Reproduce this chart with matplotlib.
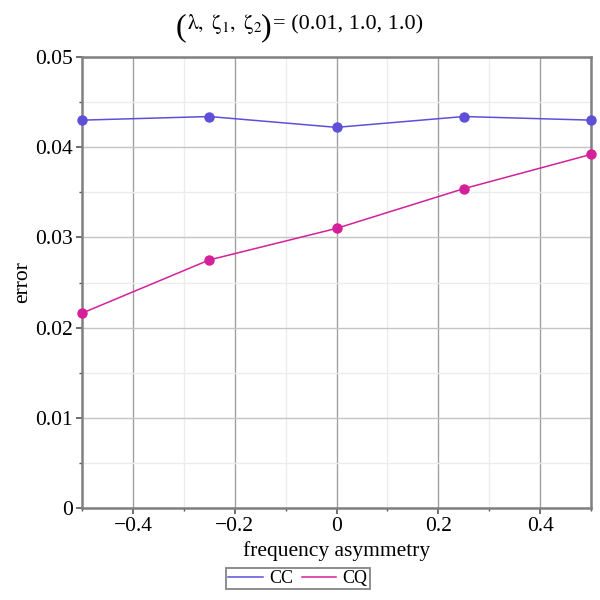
import matplotlib
matplotlib.use("Agg")
import matplotlib.pyplot as plt
from matplotlib.ticker import MultipleLocator, FuncFormatter

plt.rcParams['font.family'] = ['Liberation Serif', 'DejaVu Serif']
plt.rcParams['mathtext.fontset'] = 'stix'

asym = [-0.5, -0.25, 0.0, 0.25, 0.5]
err_cc = [0.0430, 0.0434, 0.0422, 0.0434, 0.0430]
err_cq = [0.0216, 0.0275, 0.0310, 0.0354, 0.0392]
series_names = ["CC", "CQ"]
col_cc = "#5E4FD8"
col_cq = "#D4209A"

W = H = 600
fig = plt.figure(figsize=(6, 6), dpi=100)
ax = fig.add_axes([82 / W, 1 - 508 / H, (591 - 82) / W, (508 - 57) / H])

ax.plot(asym, err_cc, color=col_cc, lw=1.1, marker='o', ms=6.5, clip_on=False, zorder=5, label=series_names[0])
ax.plot(asym, err_cq, color=col_cq, lw=1.1, marker='o', ms=6.5, clip_on=False, zorder=5, label=series_names[1])

ax.set_xlim(-0.5, 0.5)
ax.set_ylim(0, 0.05)
ax.xaxis.set_major_locator(MultipleLocator(0.2))
ax.xaxis.set_minor_locator(MultipleLocator(0.1))
ax.yaxis.set_major_locator(MultipleLocator(0.01))
ax.yaxis.set_minor_locator(MultipleLocator(0.005))

def fmt_x(v, pos):
    if abs(v) < 1e-9:
        return "0"
    s = "%.1f" % abs(v)
    return ("\u2212" + s) if v < 0 else s

def fmt_y(v, pos):
    if abs(v) < 1e-12:
        return "0"
    return "%.2f" % v

ax.xaxis.set_major_formatter(FuncFormatter(fmt_x))
ax.yaxis.set_major_formatter(FuncFormatter(fmt_y))

ax.grid(which='major', axis='x', color='#a0a0a0', lw=1.0)
ax.grid(which='major', axis='y', color='#c4c4c4', lw=1.0)
ax.grid(which='minor', color='#ececec', lw=1.0)
ax.set_axisbelow(True)

for sp in ax.spines.values():
    sp.set_color('#808080')
    sp.set_linewidth(1.8)

ax.tick_params(which='major', length=4, width=1.2, color='#555555', labelsize=15.5, direction='out', pad=2.5)
ax.tick_params(which='minor', length=2.5, width=1.0, color='#555555', direction='out')

ax.set_xlabel("frequency asymmetry", fontsize=15.5, labelpad=4)
ax.set_ylabel("error", fontsize=15.5, labelpad=2)

# title in pieces (large parentheses around the symbols), laid out left to right
renderer = fig.canvas.get_renderer()
pieces = [
    ("(", 23, 'center', 0),
    (r"$\mathrm{\lambda},\ \mathrm{\zeta}_{1},\ \mathrm{\zeta}_{2}$", 15.5, 'baseline', -1),
    (")", 23, 'center', 1),
    ("= (0.01, 1.0, 1.0)", 16, 'baseline', 0),
]
x_px = 176.0
for txt, fs, va, gap in pieces:
    ypx = 28 if va == 'center' else 29
    t = fig.text(x_px / W, 1 - ypx / H, txt, ha='left', va=va, fontsize=fs)
    bb = t.get_window_extent(renderer)
    x_px += bb.width + gap

leg = ax.legend(loc='upper center', bbox_to_anchor=((298 - 82) / (591 - 82), -(568 - 508) / (508 - 57)),
                ncol=2, frameon=True,
                fontsize=13, handlelength=1.9, columnspacing=0.5, handletextpad=0.35,
                borderpad=0.12, borderaxespad=0, fancybox=False, edgecolor='#666666')
leg.get_frame().set_linewidth(1.3)
for h in leg.legend_handles:
    h.set_marker('')

fig.savefig("out.png", dpi=100)
